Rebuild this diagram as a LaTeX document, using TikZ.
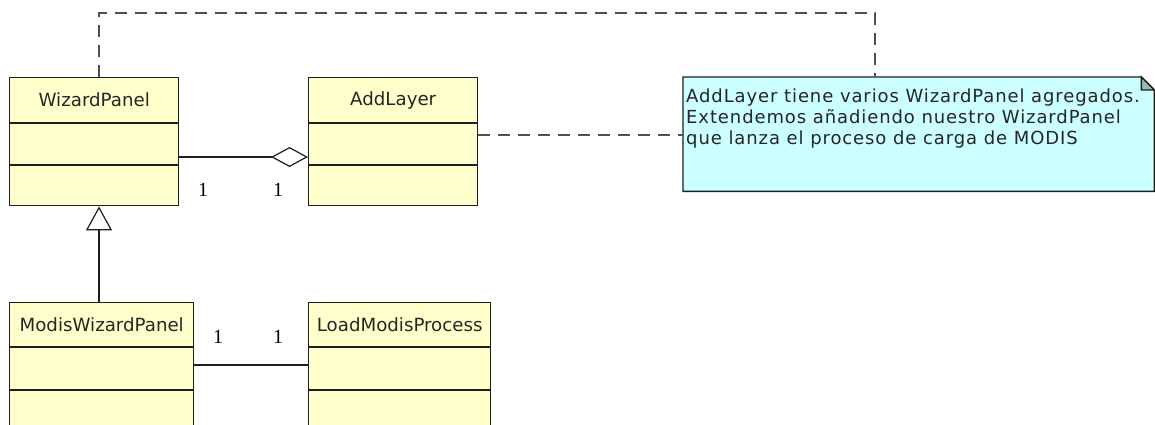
\documentclass[tikz,border=0pt]{standalone}
\usepackage{fontspec}
\setmainfont{DejaVu Sans}
\newfontfamily\notefont[LetterSpace=5]{DejaVu Sans}
\newfontfamily\numfont{Liberation Serif}
\usetikzlibrary{arrows.meta,calc}
\definecolor{clsfill}{RGB}{255,255,204}
\definecolor{notefill}{RGB}{204,255,255}
\definecolor{foldfill}{RGB}{153,187,187}
\definecolor{dashcol}{RGB}{80,80,80}
\definecolor{edgecol}{RGB}{30,30,30}
\begin{document}
\begin{tikzpicture}[x=1pt,y=-1pt,
  clsbox/.style={draw=edgecol, fill=clsfill, line width=1.4pt, rectangle, anchor=north west, inner sep=0pt},
  clsname/.style={font=\fontsize{18.2}{18}\selectfont, inner sep=0pt, text=black!85},
  divider/.style={draw=edgecol, line width=1.4pt},
  assoc/.style={draw=edgecol, line width=1.2pt},
  notelink/.style={draw=dashcol, line width=1.4pt, dash pattern=on 12pt off 8pt},
  mult/.style={font=\numfont\fontsize{20}{20}\selectfont, inner sep=0pt},
  notebox/.style={inner sep=0pt, minimum width=471pt, minimum height=114pt, anchor=north west},
  notetext/.style={anchor=north west, align=left, font=\notefont\fontsize{18}{21}\selectfont, inner sep=0pt, text=black!85}
]
\useasboundingbox (0,0) rectangle (1155,425);
\clip (0,0) rectangle (1155,425);
\fill[white] (0,0) rectangle (1155,425);

% classes
\node[clsbox, minimum width=169pt, minimum height=128pt] (wp) at (9,77) {};
\node[clsbox, minimum width=169pt, minimum height=128pt] (al) at (308,77) {};
\node[clsbox, minimum width=184pt, minimum height=140pt] (mwp) at (9,302) {};
\node[clsbox, minimum width=182pt, minimum height=140pt] (lmp) at (308,302) {};

\node[clsname] (wpn) at ($(wp.north)+(0,23)$) {WizardPanel};
\node[clsname] (aln) at ($(al.north)+(0,23)$) {AddLayer};
\node[clsname] (mwpn) at ($(mwp.north)+(0,23)$) {ModisWizardPanel};
\node[clsname] (lmpn) at ($(lmp.north)+(0,23)$) {LoadModisProcess};

\foreach \n in {wp,al}{
  \draw[divider] ($(\n.north west)+(0,46)$) -- ($(\n.north east)+(0,46)$);
  \draw[divider] ($(\n.north west)+(0,88)$) -- ($(\n.north east)+(0,88)$);
}
\foreach \n in {mwp,lmp}{
  \draw[divider] ($(\n.north west)+(0,45)$) -- ($(\n.north east)+(0,45)$);
  \draw[divider] ($(\n.north west)+(0,88)$) -- ($(\n.north east)+(0,88)$);
}

% note
\node[notebox] (note) at (683,77) {};
\filldraw[fill=notefill, draw=edgecol, line width=1.4pt]
  (note.north west) -- ($(note.north east)+(-13,0)$) -- ($(note.north east)+(0,13)$)
  -- (note.south east) -- (note.south west) -- cycle;
\filldraw[fill=foldfill, draw=edgecol, line width=1.4pt]
  ($(note.north east)+(-13,0)$) -- ($(note.north east)+(-13,13)$) -- ($(note.north east)+(0,13)$) -- cycle;
\node[notetext] (notetxt) at (686,89) {AddLayer tiene varios WizardPanel agregados.\\Extendemos añadiendo nuestro WizardPanel\\que lanza el proceso de carga de MODIS};

% connectors
\coordinate (ay) at (0,157);
\draw[assoc, -{Diamond[open, fill=white, length=37pt, width=20pt]}] (wp.east |- ay) -- (al.west |- ay);
\coordinate (gx) at (99,0);
\draw[assoc, -{Triangle[open, fill=white, length=24pt, width=26pt]}] (mwp.north -| gx) -- (wp.south -| gx);
\coordinate (by) at (0,365);
\draw[assoc] (mwp.east |- by) -- (lmp.west |- by);

\coordinate (cy) at (0,135);
\draw[notelink] (al.east |- cy) -- (note.west |- cy);
\coordinate (t1) at (99,13);
\coordinate (t2) at (875,13);
\draw[notelink] (wp.north -| gx) -- (t1) -- (t2) -- (note.north -| t2);

% multiplicities
\node[mult] (m1) at (203,190) {1};
\node[mult] (m2) at (278,190) {1};
\node[mult] (m3) at (218,337) {1};
\node[mult] (m4) at (278,337) {1};
\end{tikzpicture}
\end{document}
